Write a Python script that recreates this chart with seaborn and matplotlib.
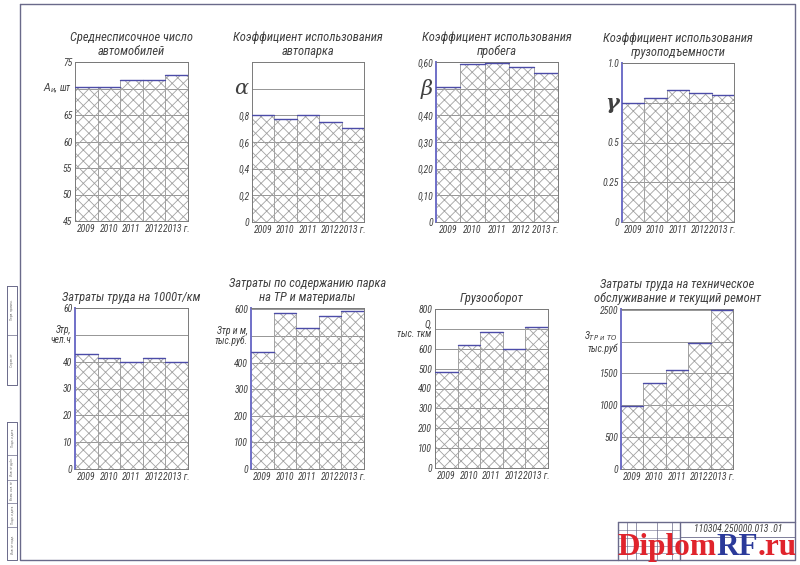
import matplotlib
matplotlib.use('Agg')
import matplotlib.pyplot as plt
import numpy as np
import pandas as pd
import seaborn as sns
from matplotlib.lines import Line2D

years = ['2009', '2010', '2011', '2012', '2013 г.']

avg_cars = [70.2, 70.2, 71.6, 71.6, 72.5]
alpha_use = [0.80, 0.775, 0.80, 0.75, 0.705]
beta_run = [0.506, 0.594, 0.597, 0.58, 0.56]
gamma_load = [0.75, 0.78, 0.83, 0.81, 0.80]
labour_1000 = [43.0, 41.3, 40.0, 41.3, 39.9]
cost_tr = [439, 586, 531, 576, 592]
freight = [483, 617, 683, 597, 708]
labour_to = [985, 1353, 1553, 1984, 2490]

titles = [
    'Среднесписочное число\nавтомобилей',
    'Коэффициент использования\nавтопарка',
    'Коэффициент использования\nпробега',
    'Коэффициент использования\nгрузоподъемности',
    'Затраты труда на 1000т/км',
    'Затраты по содержанию парка\nна ТР и материалы',
    'Грузооборот',
    'Затраты труда на техническое\nобслуживание и текущий ремонт',
]

ticks = [
    [45, 50, 55, 60, 65, 70, 75],
    [0, 0.2, 0.4, 0.6, 0.8, 1.0],
    [0, 0.1, 0.2, 0.3, 0.4, 0.5, 0.6],
    [0, 0.25, 0.5, 0.75, 1.0],
    [0, 10, 20, 30, 40, 50, 60],
    [0, 100, 200, 300, 400, 500, 600],
    [0, 100, 200, 300, 400, 500, 600, 700, 800],
    [0, 500, 1000, 1500, 2000, 2500],
]
tick_labels = [
    ['45', '50', '55', '60', '65', '', '75'],
    ['0', '0,2', '0,4', '0,6', '0,8', ''],
    ['0', '0,10', '0,20', '0,30', '0,40', '', '0,60'],
    ['0', '0.25', '0.5', '', '1.0'],
    ['0', '10', '20', '30', '40', '', '60'],
    ['0', '100', '200', '300', '400', '', '600'],
    ['0', '100', '200', '300', '400', '500', '600', '', '800'],
    ['0', '500', '1000', '1500', '', '2500'],
]
ylims = [(45, 75), (0, 1.2), (0, 0.6), (0, 1.0), (0, 60), (0, 605), (0, 800), (0, 2510)]
series = [avg_cars, alpha_use, beta_run, gamma_load, labour_1000, cost_tr, freight, labour_to]

W, H = 800, 565
boxes = [
    (75, 62, 188, 221), (252, 62, 364, 222), (436, 62, 558, 222), (622, 63, 734, 222),
    (75, 308, 188, 469), (251, 308, 364, 469), (435, 309, 548, 468), (621, 309, 733, 469),
]
blue_spine = [False, False, True, True, True, True, False, True]

TXT = '#404040'
GRID = '#858585'
BLUE = '#4c4ca8'
NARROW = ['Roboto Condensed', 'Fira Sans Condensed', 'PT Sans Narrow', 'Liberation Sans']

sns.set_style('white')
plt.rcParams['font.family'] = NARROW
plt.rcParams['hatch.linewidth'] = 0.6

fig = plt.figure(figsize=(8, 5.65), dpi=100)


def rect(l, t, r, b):
    return [l / W, 1 - b / H, (r - l) / W, (b - t) / H]


axes = []
for i, vals in enumerate(series):
    ax = fig.add_axes(rect(*boxes[i]))
    df = pd.DataFrame({'year': years, 'value': vals})
    sns.barplot(data=df, x='year', y='value', color='white', width=1.0, ax=ax)
    for p in ax.patches:
        p.set_facecolor('none')
        p.set_edgecolor('#a2a2a2')
        p.set_linewidth(0.7)
        p.set_hatch('xxx')
        ax.plot([p.get_x(), p.get_x() + p.get_width()], [p.get_height()] * 2,
                color=BLUE, lw=1.0, zorder=5)
    ax.set_xlim(-0.5, 4.5)
    ax.set_ylim(*ylims[i])
    ax.set_yticks(ticks[i])
    ax.set_yticklabels(tick_labels[i])
    ax.yaxis.grid(True, color=GRID, lw=0.6)
    ax.set_axisbelow(True)
    ax.set_xlabel('')
    ax.set_ylabel('')
    ax.tick_params(length=0, pad=2, colors=TXT)
    for lab in ax.get_yticklabels() + ax.get_xticklabels():
        lab.set_fontstyle('italic')
        lab.set_fontsize(7)
        lab.set_color(TXT)
    for s in ax.spines.values():
        s.set_color('#7a7a7a')
        s.set_linewidth(0.7)
    if blue_spine[i]:
        ax.spines['left'].set_color('#7070c8')
        ax.spines['left'].set_linewidth(1.4)
    ax.set_title(titles[i], fontsize=9, style='italic', color=TXT, pad=5,
                 linespacing=1.1)
    axes.append(ax)


# axis symbols at the gridline they replace
def ylab(ax, y, s, **kw):
    ax.text(-0.03, y, s, transform=ax.get_yaxis_transform(), ha='right', va='center',
            style='italic', color=TXT, **kw)


ylab(axes[0], 70, '$A_{и}$, шт', fontsize=7)
ylab(axes[1], 1.0, 'α', fontsize=15, family='DejaVu Serif')
ylab(axes[2], 0.5, 'β', fontsize=15, family='DejaVu Serif')
ylab(axes[3], 0.75, 'γ', fontsize=15, family='DejaVu Serif', weight='bold')
ylab(axes[4], 50, 'Зтр,\nчел.ч', fontsize=7, linespacing=1.0)
ylab(axes[5], 500, 'Зтр и м,\nтыс.руб.', fontsize=7, linespacing=1.0)
ylab(axes[6], 700, 'Q,\nтыс. ткм', fontsize=7, linespacing=1.0)
ylab(axes[7], 2000, 'З$_{ТР\\ и\\ ТО}$\nтыс.руб', fontsize=7, linespacing=1.0)


# drawing sheet frame
def fline(xs, ys, lw=0.8, c='#6a6a8a'):
    fig.add_artist(Line2D([x / W for x in xs], [1 - y / H for y in ys],
                          lw=lw, color=c, transform=fig.transFigure))


fline([20, 795, 795, 20, 20], [4, 4, 560, 560, 4], lw=1.0)
# left stamps
fline([7, 17, 17, 7, 7], [286, 286, 385, 385, 286], lw=0.7)
fline([7, 17], [335, 335], lw=0.5)
fline([7, 17, 17, 7, 7], [422, 422, 560, 560, 422], lw=0.7)
for y in [455, 480, 503, 527]:
    fline([7, 17], [y, y], lw=0.5)
stamp_txt = [('Перв. примен.', 310), ('Справ. №', 360), ('Подп. и дата', 438),
             ('Инв. № дубл.', 467), ('Взам. инв. №', 491), ('Подп. и дата', 515),
             ('Инв. № подл.', 544)]
for s, y in stamp_txt:
    fig.text(12 / W, 1 - y / H, s, rotation=90, fontsize=2.5, color='#777',
             ha='center', va='center')

# title block
fline([618, 795], [522, 522], lw=1.0)
fline([618, 618], [522, 560], lw=1.0)
for x in [627, 636, 657, 672]:
    fline([x, x], [522, 560], lw=0.5)
fline([680, 680], [522, 560], lw=1.0)
for y in [530, 538, 546, 553]:
    fline([618, 680], [y, y], lw=0.4)
fline([680, 795], [537, 537], lw=0.6)
fig.text(738 / W, 1 - 529 / H, '110304.250000.013 .01', fontsize=7, style='italic',
         color=TXT, ha='center', va='center')

# watermark
fig.canvas.draw()
r = fig.canvas.get_renderer()
x0 = 617 / W
yb = 1 - 555 / H
for part, col in [('Diplom', '#e0242c'), ('RF', '#2b3a9a'), ('.ru', '#e0242c')]:
    t = fig.text(x0, yb, part, fontsize=22.5, family='Liberation Serif', weight='bold',
                 color=col, ha='left', va='baseline')
    bb = t.get_window_extent(renderer=r)
    x0 += bb.width / W

fig.savefig('out.png', dpi=100)
